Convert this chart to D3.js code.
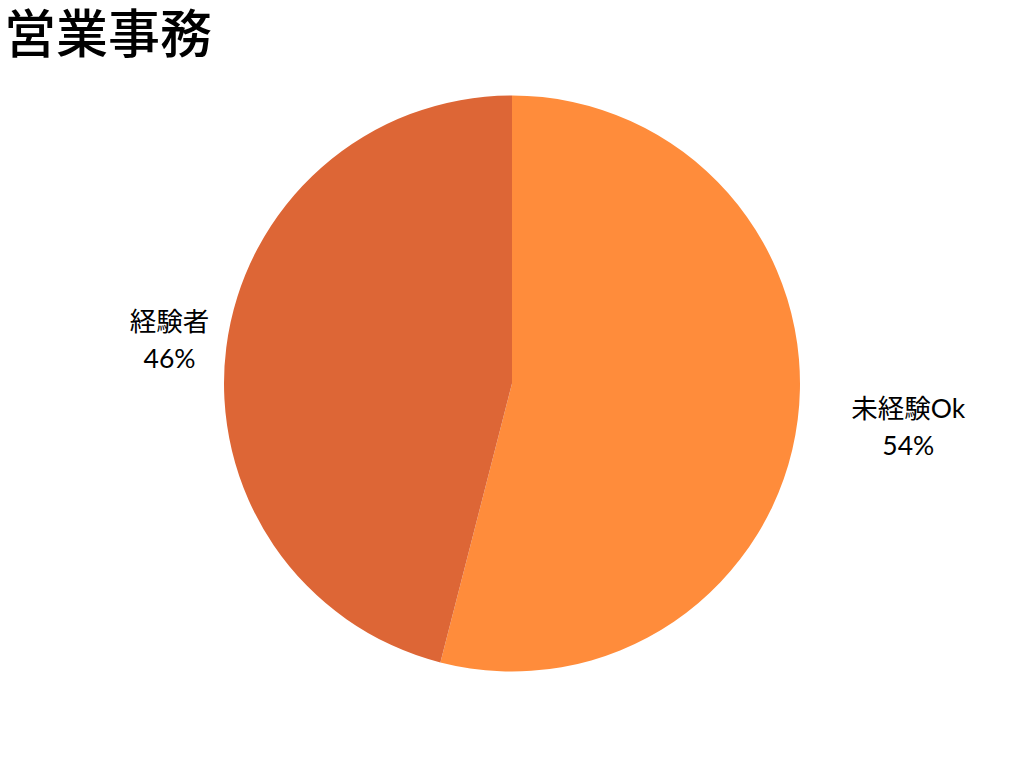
<!DOCTYPE html>
<html><head><meta charset="utf-8">
<script src="https://cdn.jsdelivr.net/npm/d3@7"></script>
<style>
html,body{margin:0;padding:0;background:#fff;}
svg{display:block;font-family:Lato,"Noto Sans CJK JP",sans-serif;}
</style></head>
<body><svg id="c" width="1024" height="768"></svg>
<script>
const title = "営業事務";
const categories = ["未経験Ok", "経験者"];
const values = [54, 46];
const colors = ["#FF8C3B", "#DD6636"];

const svg = d3.select("#c");
const W = 1024, H = 768;
const cx = 512, cy = 383.5, r = 288;

svg.append("text").attr("x", 4).attr("y", 53)
  .attr("font-size", 52).attr("font-weight", 500)
  .attr("font-family", "'Noto Sans CJK JP',sans-serif")
  .attr("fill", "#000").text(title);

const pie = d3.pie().sort(null).value(d => d)(values);
const arc = d3.arc().innerRadius(0).outerRadius(r);
const g = svg.append("g").attr("transform", `translate(${cx},${cy})`);
g.selectAll("path").data(pie).join("path")
  .attr("d", arc).attr("fill", (d, i) => colors[i]);

const lg = g.selectAll("g.lbl").data(pie).join("g").attr("class", "lbl");
lg.each(function(d, i) {
  const sel = d3.select(this);
  const t = sel.append("text").attr("text-anchor", "middle")
    .attr("font-size", 26.5).attr("fill", "#000");
  t.append("tspan").attr("x", 0).attr("y", -9).text(categories[i]);
  t.append("tspan").attr("x", 0).attr("y", 28).text(values[i] + "%");
  const w = t.node().getBBox().width;
  const a = (d.startAngle + d.endAngle) / 2;
  const dx = Math.sin(a), dy = -Math.cos(a);
  const R = 222;
  const x = dx * (R + w * 1.55);
  const y = dy * 348;
  sel.attr("transform", `translate(${x},${y})`);
});
</script></body></html>
